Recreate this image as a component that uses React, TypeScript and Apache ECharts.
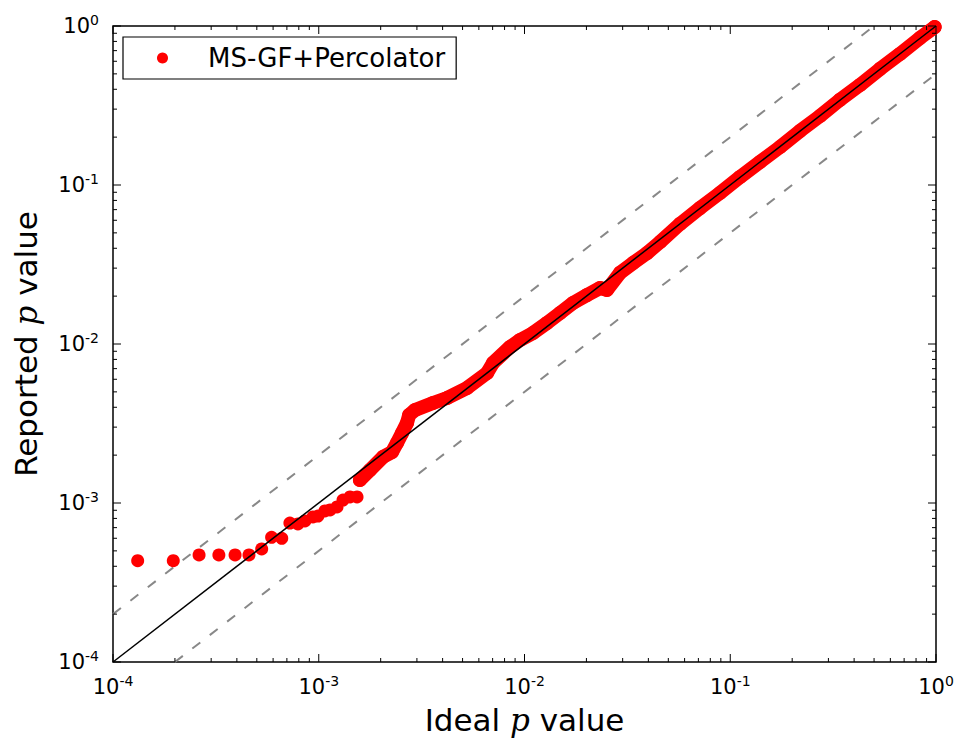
import React, { useEffect, useRef } from "react";
import * as echarts from "echarts";

// Discrete low p-value points (ideal, reported)
const idealLow = [1.318e-4, 1.963e-4, 2.62e-4, 3.27e-4, 3.92e-4, 4.58e-4, 5.28e-4, 5.9e-4, 6.61e-4, 7.24e-4, 7.92e-4, 8.57e-4, 9.37e-4, 9.91e-4, 1.071e-3, 1.135e-3, 1.227e-3, 1.312e-3, 1.419e-3, 1.535e-3];
const reportedLow = [4.34e-4, 4.34e-4, 4.71e-4, 4.71e-4, 4.71e-4, 4.71e-4, 5.14e-4, 6.08e-4, 6.0e-4, 7.48e-4, 7.38e-4, 7.71e-4, 8.17e-4, 8.28e-4, 8.91e-4, 9.04e-4, 9.44e-4, 1.044e-3, 1.091e-3, 1.091e-3];

// Dense band of points (ideal, reported)
const idealBand = [1.585e-3, 1.775e-3, 2.053e-3, 2.27e-3, 2.4e-3, 2.54e-3, 2.685e-3, 2.75e-3, 2.94e-3, 3.59e-3, 4.2e-3, 5.26e-3, 6.58e-3, 7.03e-3, 8.51e-3, 9.51e-3, 1.099e-2, 1.286e-2, 1.489e-2, 1.72e-2, 2.01e-2, 2.33e-2, 2.52e-2, 2.91e-2, 3.37e-2, 3.94e-2, 4.56e-2, 5.7e-2, 7.13e-2, 8.91e-2, 0.1115, 0.1396, 0.1746, 0.2183, 0.273, 0.341, 0.4275, 0.5346, 0.668, 0.836, 0.985];
const reportedBand = [1.396e-3, 1.613e-3, 1.947e-3, 2.092e-3, 2.385e-3, 2.757e-3, 3.186e-3, 3.577e-3, 3.846e-3, 4.256e-3, 4.574e-3, 5.29e-3, 6.57e-3, 7.6e-3, 9.58e-3, 1.059e-2, 1.172e-2, 1.355e-2, 1.567e-2, 1.81e-2, 2.03e-2, 2.25e-2, 2.19e-2, 2.8e-2, 3.23e-2, 3.73e-2, 4.38e-2, 5.69e-2, 7.16e-2, 8.91e-2, 0.1122, 0.1396, 0.1734, 0.2187, 0.2716, 0.343, 0.4256, 0.537, 0.667, 0.841, 0.985];

// Reference lines
const diagonal = [[1e-4, 1e-4], [1, 1]];
const upperDashed = [[1e-4, 2e-4], [0.5, 1]];
const lowerDashed = [[2e-4, 1e-4], [1, 0.5]];

// Ticks
const majorTicks = [1e-4, 1e-3, 1e-2, 1e-1, 1];
const minorMantissas = [2, 3, 4, 5, 6, 7, 8, 9];
const decades = [1e-4, 1e-3, 1e-2, 1e-1];

const FONT = "DejaVu Sans";

export default function App() {
  const ref = useRef<HTMLDivElement>(null);
  useEffect(() => {
    if (!ref.current) return;
    const chart = echarts.init(ref.current, undefined, { renderer: "svg" });

    const minorTicks: number[] = [];
    decades.forEach((d) => minorMantissas.forEach((m) => minorTicks.push(+(m * d).toPrecision(3))));
    const tickData: any[] = [];
    majorTicks.forEach((v) => tickData.push([v, 1]));
    minorTicks.forEach((v) => tickData.push([v, 0]));

    const lowData = idealLow.map((x, i) => [x, reportedLow[i]]);
    const bandData = idealBand.map((x, i) => [x, reportedBand[i]]);

    const labelFmt = (v: number) => {
      const e = Math.round(Math.log10(v));
      return `{b|10}{s|${e}}`;
    };
    const rich = {
      b: { fontSize: 21, fontFamily: FONT, color: "#000" },
      s: { fontSize: 14, fontFamily: FONT, color: "#000", padding: [0, 0, 12, 0] },
    };

    const renderTicks = (axis: "x" | "y") => (params: any, api: any) => {
      const v = api.value(0);
      const major = api.value(1) === 1;
      const len = major ? 8 : 4;
      const style = { stroke: "#000", lineWidth: 1 };
      if (axis === "x") {
        const b = api.coord([v, 1e-4]);
        const t = api.coord([v, 1]);
        return {
          type: "group",
          children: [
            { type: "line", shape: { x1: b[0], y1: b[1], x2: b[0], y2: b[1] - len }, style },
            { type: "line", shape: { x1: t[0], y1: t[1], x2: t[0], y2: t[1] + len }, style },
          ],
        };
      } else {
        const l = api.coord([1e-4, v]);
        const r = api.coord([1, v]);
        return {
          type: "group",
          children: [
            { type: "line", shape: { x1: l[0], y1: l[1], x2: l[0] + len, y2: l[1] }, style },
            { type: "line", shape: { x1: r[0], y1: r[1], x2: r[0] - len, y2: r[1] }, style },
          ],
        };
      }
    };

    chart.setOption({
      animation: false,
      backgroundColor: "#fff",
      textStyle: { fontFamily: FONT },
      grid: {
        left: 113,
        right: 21,
        top: 26,
        bottom: 83,
        show: true,
        borderColor: "#000",
        borderWidth: 1.5,
        backgroundColor: "#fff",
      },
      legend: {
        left: 123,
        top: 37,
        orient: "horizontal",
        data: [{ name: "MS-GF+Percolator", icon: "circle" }],
        itemWidth: 11,
        itemHeight: 11,
        padding: [7, 11, 7, 34],
        borderColor: "#000",
        borderWidth: 1.2,
        borderRadius: 0,
        backgroundColor: "#fff",
        textStyle: { fontSize: 26, fontFamily: FONT, color: "#000", padding: [0, 0, 0, 35], lineHeight: 28 },
      },
      xAxis: {
        type: "log",
        logBase: 10,
        min: 1e-4,
        max: 1,
        axisLine: { show: false },
        axisTick: { show: false },
        splitLine: { show: false },
        axisLabel: { formatter: labelFmt, rich, margin: 12 },
        name: "Ideal {i|p} value",
        nameLocation: "middle",
        nameGap: 42,
        nameTextStyle: {
          fontSize: 31,
          fontFamily: FONT,
          color: "#000",
          rich: { i: { fontSize: 31, fontFamily: "DejaVu Serif", fontStyle: "italic", color: "#000" } },
        },
      },
      yAxis: {
        type: "log",
        logBase: 10,
        min: 1e-4,
        max: 1,
        axisLine: { show: false },
        axisTick: { show: false },
        splitLine: { show: false },
        axisLabel: { formatter: labelFmt, rich, margin: 14 },
        name: "Reported {i|p} value",
        nameLocation: "middle",
        nameGap: 72,
        nameRotate: 90,
        nameTextStyle: {
          fontSize: 31,
          fontFamily: FONT,
          color: "#000",
          rich: { i: { fontSize: 31, fontFamily: "DejaVu Serif", fontStyle: "italic", color: "#000" } },
        },
      },
      series: [
        {
          type: "line",
          name: "upper",
          data: upperDashed,
          symbol: "none",
          lineStyle: { color: "#888", width: 2, type: [10, 12] },
          z: 1,
          silent: true,
        },
        {
          type: "line",
          name: "lower",
          data: lowerDashed,
          symbol: "none",
          lineStyle: { color: "#888", width: 2, type: [10, 12] },
          z: 1,
          silent: true,
        },
        {
          type: "line",
          name: "band",
          data: bandData,
          symbol: "circle",
          symbolSize: 14,
          itemStyle: { color: "#ff0000", opacity: 1 },
          lineStyle: { color: "#ff0000", width: 14, cap: "round", join: "round", opacity: 1 },
          z: 2,
          silent: true,
        },
        {
          type: "scatter",
          name: "MS-GF+Percolator",
          data: lowData,
          symbol: "circle",
          symbolSize: 13,
          itemStyle: { color: "#ff0000", opacity: 1 },
          z: 2,
        },
        {
          type: "line",
          name: "diag",
          data: diagonal,
          symbol: "none",
          lineStyle: { color: "#000", width: 1.5 },
          z: 3,
          silent: true,
        },
        {
          type: "custom",
          name: "xticks",
          data: tickData,
          renderItem: renderTicks("x"),
          z: 4,
          silent: true,
        },
        {
          type: "custom",
          name: "yticks",
          data: tickData.map((d) => [d[0], d[1]]),
          renderItem: (params: any, api: any) => renderTicks("y")(params, api),
          z: 4,
          silent: true,
        },
      ],
    });
    return () => chart.dispose();
  }, []);
  return (
    <div
      ref={ref}
      style={{ position: "fixed", left: 0, top: 0, width: 957, height: 745 }}
    />
  );
}
